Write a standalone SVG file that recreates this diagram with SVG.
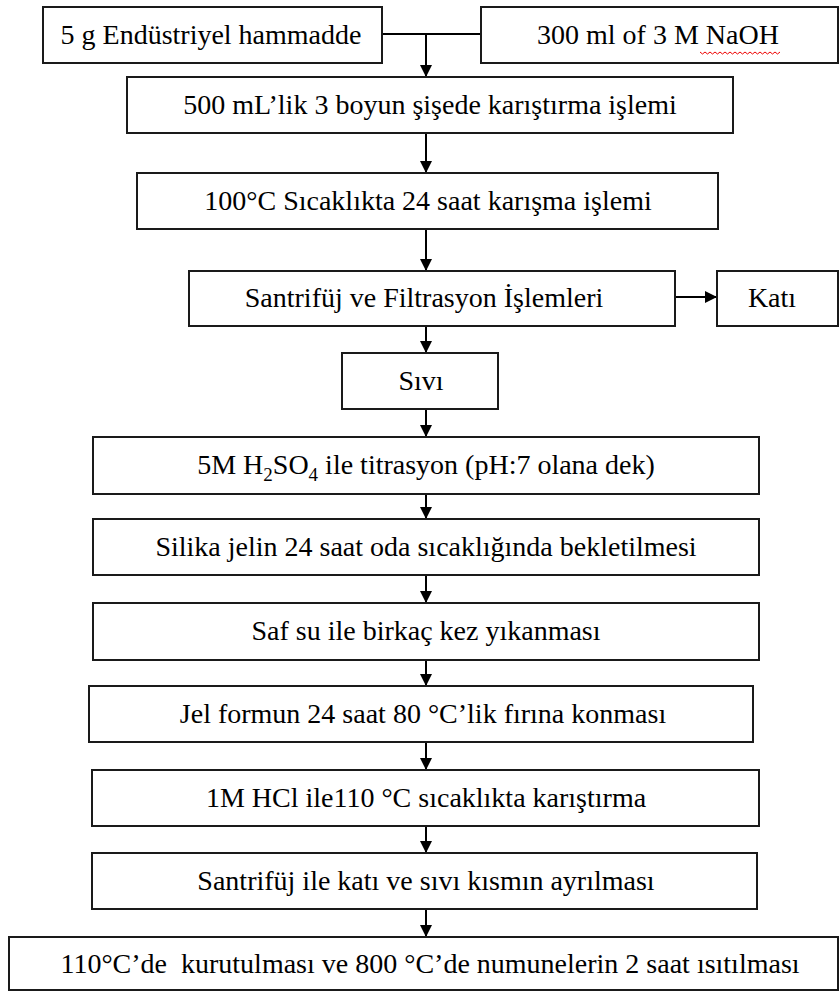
<svg xmlns="http://www.w3.org/2000/svg" width="840" height="992" viewBox="0 0 840 992">
<style>
.box{fill:#fff;stroke:#1a1a1a;stroke-width:2}
.t{font-family:"Liberation Serif","Times New Roman",serif;font-size:28px;fill:#000;text-anchor:middle;white-space:pre}
.c{fill:none;stroke:#000;stroke-width:2}
</style>
<defs>
<marker id="ah" markerUnits="userSpaceOnUse" markerWidth="12" markerHeight="14" refX="12" refY="6" orient="auto" viewBox="0 0 12 12">
<path d="M0,0 L12,6 L0,12 Z" fill="#000"/>
</marker>
</defs>
<rect width="840" height="992" fill="#fff"/>
<g id="connectors">
<path class="c" d="M382,34 H481"/>
<path class="c" d="M426,34 V77" marker-end="url(#ah)"/>
<path class="c" d="M426,133 V173" marker-end="url(#ah)"/>
<path class="c" d="M426,229 V271" marker-end="url(#ah)"/>
<path class="c" d="M675,297 H717" marker-end="url(#ah)"/>
<path class="c" d="M426,326 V353" marker-end="url(#ah)"/>
<path class="c" d="M426,409 V437" marker-end="url(#ah)"/>
<path class="c" d="M426,494 V519" marker-end="url(#ah)"/>
<path class="c" d="M426,575 V603" marker-end="url(#ah)"/>
<path class="c" d="M426,660 V686" marker-end="url(#ah)"/>
<path class="c" d="M426,742 V770" marker-end="url(#ah)"/>
<path class="c" d="M426,826 V853" marker-end="url(#ah)"/>
<path class="c" d="M426,909 V937" marker-end="url(#ah)"/>
</g>
<g id="n1"><rect class="box" x="43" y="7" width="339" height="56"/><text class="t" x="211" y="44">5 g Endüstriyel hammadde</text></g>
<g id="n2"><rect class="box" x="481" y="7" width="357" height="56"/><text class="t" x="658" y="44">300 ml of 3 M NaOH</text>
<path d="M700,52 l2.5,2 l2.5,-2 l2.5,2 l2.5,-2 l2.5,2 l2.5,-2 l2.5,2 l2.5,-2 l2.5,2 l2.5,-2 l2.5,2 l2.5,-2 l2.5,2 l2.5,-2 l2.5,2 l2.5,-2 l2.5,2 l2.5,-2 l2.5,2 l2.5,-2 l2.5,2 l2.5,-2 l2.5,2 l2.5,-2 l2.5,2 l2.5,-2 l2.5,2 l2.5,-2 l2.5,2 l2.5,-2 l2.5,2 l2.5,-2" fill="none" stroke="#e00" stroke-width="1"/></g>
<g id="n3"><rect class="box" x="127" y="77" width="606" height="56"/><text class="t" x="430" y="114">500 mL’lik 3 boyun şişede karıştırma işlemi</text></g>
<g id="n4"><rect class="box" x="137" y="173" width="581" height="56"/><text class="t" x="428" y="210">100°C Sıcaklıkta 24 saat karışma işlemi</text></g>
<g id="n5"><rect class="box" x="189" y="271" width="486" height="55"/><text class="t" x="424" y="307">Santrifüj ve Filtrasyon İşlemleri</text></g>
<g id="n6"><rect class="box" x="717" y="271" width="121" height="55"/><text class="t" x="772" y="307">Katı</text></g>
<g id="n7"><rect class="box" x="342" y="353" width="156" height="56"/><text class="t" x="421" y="390">Sıvı</text></g>
<g id="n8"><rect class="box" x="93" y="437" width="666" height="57"/><text class="t" x="426" y="474">5M H<tspan font-size="19" dy="7">2</tspan><tspan dy="-7">SO</tspan><tspan font-size="19" dy="7">4</tspan><tspan dy="-7"> ile titrasyon (pH:7 olana dek)</tspan></text></g>
<g id="n9"><rect class="box" x="93" y="519" width="666" height="56"/><text class="t" x="426" y="556">Silika jelin 24 saat oda sıcaklığında bekletilmesi</text></g>
<g id="n10"><rect class="box" x="93" y="603" width="666" height="57"/><text class="t" x="426" y="640">Saf su ile birkaç kez yıkanması</text></g>
<g id="n11"><rect class="box" x="89" y="686" width="664" height="56"/><text class="t" x="423" y="723">Jel formun 24 saat 80 °C’lik fırına konması</text></g>
<g id="n12"><rect class="box" x="92" y="770" width="667" height="56"/><text class="t" x="426" y="807">1M HCl ile110 °C sıcaklıkta karıştırma</text></g>
<g id="n13"><rect class="box" x="92" y="853" width="665" height="56"/><text class="t" x="426" y="890">Santrifüj ile katı ve sıvı kısmın ayrılması</text></g>
<g id="n14"><rect class="box" x="9" y="937" width="829" height="53"/><text class="t" x="430" y="973">110°C’de  kurutulması ve 800 °C’de numunelerin 2 saat ısıtılması</text></g>
</svg>
